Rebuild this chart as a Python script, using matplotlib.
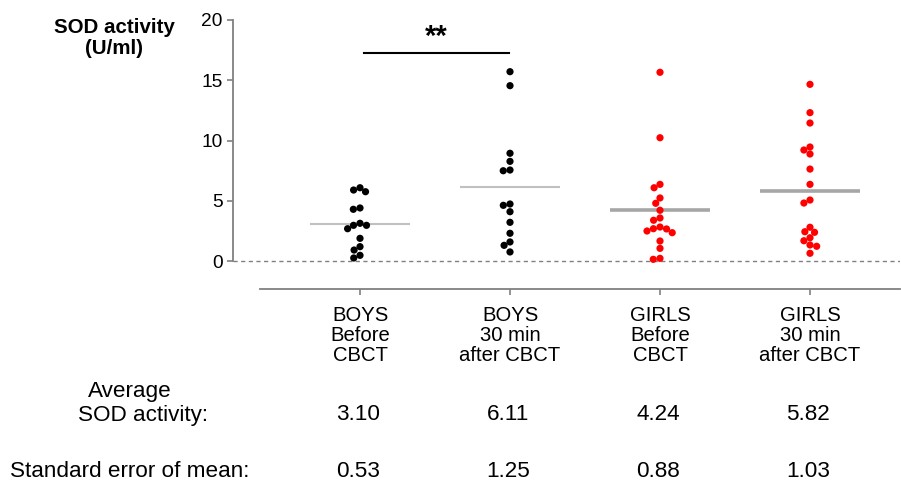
import numpy as np
import matplotlib
matplotlib.use("Agg")
import matplotlib.pyplot as plt

plt.rcParams['font.family'] = ['Liberation Sans', 'DejaVu Sans']

# ---- data -------------------------------------------------------------
categories = ["BOYS\nBefore\nCBCT", "BOYS\n30 min\nafter CBCT",
              "GIRLS\nBefore\nCBCT", "GIRLS\n30 min\nafter CBCT"]

boys_before = [6.08, 5.75, 5.89, 4.29, 4.40, 3.13, 2.68, 2.96, 2.96,
               1.88, 1.19, 0.91, 0.47, 0.25]
boys_after = [15.71, 14.55, 8.94, 8.27, 7.55, 7.49, 4.73, 4.62, 4.09,
              3.21, 2.30, 1.58, 1.30, 0.75]
girls_before = [15.66, 10.23, 6.36, 6.08, 5.23, 4.79, 4.21, 3.57, 3.38,
                2.82, 2.68, 2.66, 2.35, 2.49, 1.66, 1.05, 0.22, 0.14]
girls_after = [14.66, 12.31, 11.45, 9.46, 9.21, 8.88, 7.63, 6.36, 5.06,
               4.81, 2.80, 2.38, 2.43, 1.93, 1.68, 1.33, 1.22, 0.64]

mean_values = [3.10, 6.11, 4.24, 5.82]
sem_values = [0.53, 1.25, 0.88, 1.03]
significance = "**"

series = [boys_before, boys_after, girls_before, girls_after]
dot_colors = ["black", "black", "#ff0000", "#ff0000"]
mean_colors = ["#c0c0c0", "#c0c0c0", "#a6a6a6", "#a6a6a6"]
mean_widths = [1.5, 1.5, 2.6, 2.6]

# ---- figure / axes ----------------------------------------------------
W, H = 901, 482
fig = plt.figure(figsize=(W / 100, H / 100), dpi=100)
ax_left, ax_right, ax_top, ax_bottom = 233, 900, 20, 289
ax = fig.add_axes([ax_left / W, 1 - ax_bottom / H,
                   (ax_right - ax_left) / W, (ax_bottom - ax_top) / H])

x_px_per_unit = 150.0
x0_px = 360.0
xlim = ((ax_left - x0_px) / x_px_per_unit, (ax_right - x0_px) / x_px_per_unit)
y_px_per_unit = (261 - 20) / 20.0
ylim = (-(ax_bottom - 261) / y_px_per_unit, 20)
ax.set_xlim(*xlim)
ax.set_ylim(*ylim)


def swarm_offsets(values, d_px):
    """Beeswarm: place each point as close to the centre as possible
    without overlapping previously placed points (in pixel space)."""
    ys = np.asarray(values) * y_px_per_unit
    order = np.argsort(-ys)
    placed = []
    xs = np.zeros(len(ys))
    for i in order:
        cands = [0.0]
        for (px, py) in placed:
            dy = ys[i] - py
            if abs(dy) < d_px:
                dx = np.sqrt(d_px ** 2 - dy ** 2)
                cands += [px + dx, px - dx]
        cands.sort(key=lambda c: (abs(c), c))
        for c in cands:
            ok = all((c - px) ** 2 + (ys[i] - py) ** 2 >= d_px ** 2 - 1e-6
                     for (px, py) in placed)
            if ok:
                xs[i] = c
                break
        placed.append((xs[i], ys[i]))
    return xs / x_px_per_unit


gray = "#808080"
for k, vals in enumerate(series):
    offs = swarm_offsets(vals, 6.8)
    ax.scatter(k + offs, vals, s=27, color=dot_colors[k], edgecolors="none",
               zorder=3)
    ax.plot([k - 1 / 3, k + 1 / 3], [mean_values[k]] * 2,
            color=mean_colors[k], lw=mean_widths[k], solid_capstyle="butt",
            zorder=2)

# zero reference line
ax.axhline(0, color=gray, lw=1.0, ls=(0, (3, 2.5)), zorder=1)

# significance bar
ax.plot([0.027, 0.993], [17.29, 17.29], color="black", lw=1.5)
ax.text(0.51, 17.45, significance, ha="center", va="bottom",
        fontsize=21, fontweight="bold")

# spines
for s in ["top", "right"]:
    ax.spines[s].set_visible(False)
ax.spines["left"].set_bounds(0, 20)
ax.spines["bottom"].set_bounds((260 - x0_px) / x_px_per_unit, xlim[1])
for s in ["left", "bottom"]:
    ax.spines[s].set_color(gray)
    ax.spines[s].set_linewidth(1.3)

ax.set_yticks([0, 5, 10, 15, 20])
ax.set_yticklabels(["0", "5", "10", "15", "20"])
ax.set_xticks(range(len(categories)))
ax.set_xticklabels(categories, linespacing=1.08)
ax.tick_params(axis="y", colors=gray, labelcolor="black", labelsize=13.8,
               length=4.5, width=1.2, pad=3)
ax.tick_params(axis="x", colors=gray, labelcolor="black", labelsize=14.6,
               length=4, width=1.2, pad=8)


def fx(px):
    return px / W


def fy(py):
    return 1 - py / H


# y-axis title
fig.text(fx(114), fy(38), "SOD activity\n(U/ml)", ha="center", va="center",
         fontsize=14.8, fontweight="bold", linespacing=1.15)

# summary rows
TS = 16.2
fig.text(fx(130), fy(392), "Average", ha="center", va="center", fontsize=TS)
fig.text(fx(143), fy(415), "SOD activity:", ha="center", va="center",
         fontsize=TS)
fig.text(fx(10), fy(477), "Standard error of mean:", ha="left",
         va="baseline", fontsize=TS)
for k in range(len(categories)):
    cx = x0_px + k * x_px_per_unit
    fig.text(fx(cx - 2), fy(415), f"{mean_values[k]:.2f}", ha="center",
             va="center", fontsize=TS)
    fig.text(fx(cx - 2), fy(477), f"{sem_values[k]:.2f}", ha="center",
             va="baseline", fontsize=TS)

fig.savefig("out.png", dpi=100)
